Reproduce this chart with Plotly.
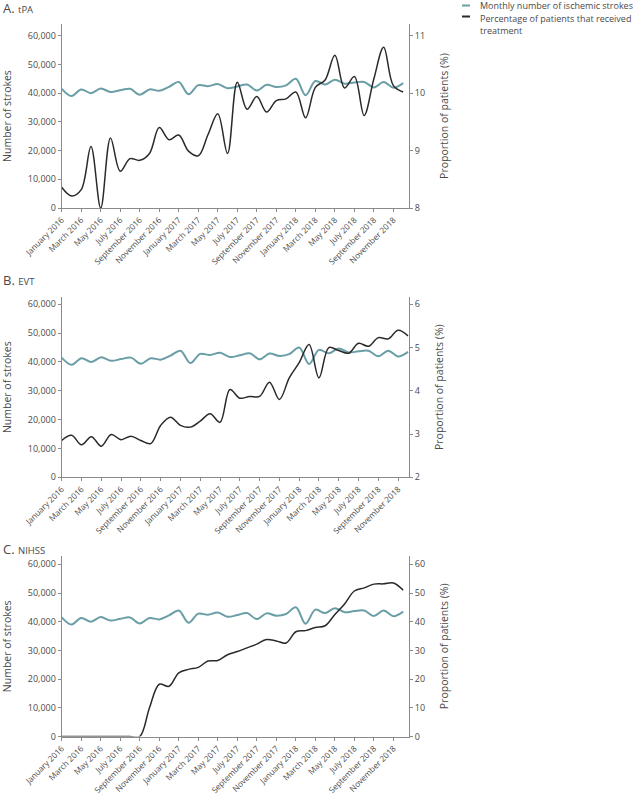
import plotly.graph_objects as go

# ---------------- data ----------------
months = list(range(36))  # January 2016 ... December 2018
tick_positions = list(range(0, 36, 2))
tick_labels = [
    "January 2016", "March 2016", "May 2016", "July 2016", "September 2016", "November 2016",
    "January 2017", "March 2017", "May 2017", "July 2017", "September 2017", "November 2017",
    "January 2018", "March 2018", "May 2018", "July 2018", "September 2018", "November 2018",
]

monthly_strokes = [41500, 39000, 41300, 40000, 41600, 40400, 41000, 41500, 39400, 41300,
                   40800, 42200, 43900, 39600, 42800, 42400, 43200, 41700, 42300, 43000,
                   40900, 42900, 42100, 42700, 45000, 39300, 44200, 43000, 44700, 43300,
                   43700, 43900, 42000, 43900, 41900, 43500]

tpa_pct = [8.36, 8.21, 8.32, 9.07, 8.00, 9.22, 8.64, 8.86, 8.83, 8.95,
           9.40, 9.19, 9.27, 8.99, 8.91, 9.28, 9.64, 8.95, 10.19, 9.72,
           9.94, 9.67, 9.87, 9.90, 10.02, 9.57, 10.10, 10.23, 10.66, 10.09,
           10.29, 9.61, 10.25, 10.80, 10.13, 10.02]

evt_pct = [2.85, 2.97, 2.75, 2.94, 2.72, 2.99, 2.87, 2.95, 2.85, 2.78,
           3.20, 3.39, 3.20, 3.16, 3.30, 3.47, 3.27, 4.03, 3.83, 3.87,
           3.87, 4.20, 3.80, 4.30, 4.65, 5.07, 4.30, 5.00, 4.93, 4.87,
           5.10, 5.03, 5.23, 5.20, 5.40, 5.27]

nihss_pct = [0, 0, 0, 0, 0, 0, 0, 0, 0, 10.0,
             18.2, 17.5, 22.2, 23.4, 24.1, 26.3, 26.5, 28.5, 29.6, 30.9,
             32.2, 33.8, 33.3, 32.6, 36.5, 36.9, 38.0, 38.6, 42.5, 46.2,
             50.7, 51.8, 53.1, 53.2, 53.5, 51.0]

series_names = ["Monthly number of ischemic strokes",
                "Percentage of patients that received treatment"]

panels = [
    dict(letter="A.", name="tPA", pct=tpa_pct, left_max=64074, right=(8, 11.204),
         right_ticks=[8, 9, 10, 11], xmax=35.6, top=24, bottom=208, title_y=7.5),
    dict(letter="B.", name="EVT", pct=evt_pct, left_max=62532, right=(2, 6.169),
         right_ticks=[2, 3, 4, 5, 6], xmax=35.1, top=297, bottom=477.3, title_y=279.5),
    dict(letter="C.", name="NIHSS", pct=nihss_pct, left_max=62892, right=(0, 62.9),
         right_ticks=[0, 10, 20, 30, 40, 50, 60], xmax=35.6, top=556, bottom=736.5, title_y=548.5),
]

# ---------------- styling ----------------
W, H = 636, 796


def px_x(v):
    return v / W


def px_y(v):
    return 1 - v / H


FONT = "Open Sans"
TEAL = "#6a9ea6"
DARK = "#2a2a2a"
AXIS = "#8a8a8a"
TXT = "#4a4a4a"
X0, X1 = px_x(61.7), px_x(409)

fig = go.Figure()
layout = dict(
    width=W, height=H, margin=dict(l=0, r=0, t=0, b=0, autoexpand=False),
    paper_bgcolor="white", plot_bgcolor="white",
    font=dict(family=FONT, size=9, color=TXT),
    showlegend=False,
)
annotations = []
shapes = []

for i, p in enumerate(panels):
    k = i + 1
    xa = "x" if k == 1 else f"x{k}"
    yl_idx = 2 * i + 1
    yr_idx = 2 * i + 2
    yl = "y" if yl_idx == 1 else f"y{yl_idx}"
    yr = f"y{yr_idx}"
    dom = [px_y(p["bottom"]), px_y(p["top"])]

    fig.add_trace(go.Scatter(x=months, y=monthly_strokes, mode="lines", name=series_names[0],
                             line=dict(color=TEAL, width=2, shape="spline", smoothing=1),
                             xaxis=xa, yaxis=yl))
    fig.add_trace(go.Scatter(x=months, y=p["pct"], mode="lines", name=series_names[1],
                             line=dict(color=DARK, width=1.5, shape="spline", smoothing=1),
                             xaxis=xa, yaxis=yr))

    layout["xaxis" if k == 1 else f"xaxis{k}"] = dict(
        domain=[X0, X1], anchor=yl, range=[0, p["xmax"]], automargin=False,
        tickmode="array", tickvals=tick_positions, ticktext=tick_labels,
        tickangle=-45, ticks="outside", ticklen=3, tickcolor=AXIS,
        showline=True, linecolor=AXIS, linewidth=1, showgrid=False, zeroline=False,
        tickfont=dict(size=8.2, color=TXT),
    )
    layout["yaxis" if yl_idx == 1 else f"yaxis{yl_idx}"] = dict(
        domain=dom, anchor=xa, range=[0, p["left_max"]], automargin=False,
        tickmode="array", tickvals=[0, 10000, 20000, 30000, 40000, 50000, 60000],
        tickformat=",", ticks="outside", ticklen=3, tickcolor=AXIS,
        showline=True, linecolor=AXIS, linewidth=1, showgrid=False, zeroline=False,
        tickfont=dict(size=9, color=TXT),
        title=dict(text="Number of strokes", font=dict(size=10.5, color=TXT), standoff=15),
    )
    layout[f"yaxis{yr_idx}"] = dict(
        domain=dom, anchor=xa, overlaying=yl, side="right", range=list(p["right"]),
        automargin=False,
        tickmode="array", tickvals=p["right_ticks"], ticks="outside", ticklen=3, tickcolor=AXIS,
        showline=True, linecolor=AXIS, linewidth=1, showgrid=False, zeroline=False,
        tickfont=dict(size=9, color=TXT),
        title=dict(text="Proportion of patients (%)", font=dict(size=10.5, color=TXT), standoff=16),
    )

    annotations.append(dict(
        xref="paper", yref="paper", x=px_x(1), y=px_y(p["title_y"]), xanchor="left", yanchor="middle",
        showarrow=False, align="left",
        text=f"{p['letter']} <span style='font-size:9.5px'>{p['name']}</span>",
        font=dict(size=13, color=TXT, family=FONT),
    ))

# custom legend
leg_items = [(TEAL, 5.5), (DARK, 16.5)]
for col, yy in leg_items:
    shapes.append(dict(type="line", xref="paper", yref="paper",
                       x0=px_x(462), x1=px_x(470), y0=px_y(yy), y1=px_y(yy),
                       line=dict(color=col, width=2)))
annotations.append(dict(xref="paper", yref="paper", x=px_x(478), y=px_y(5.5),
                        xanchor="left", yanchor="middle", showarrow=False, align="left",
                        text=series_names[0], font=dict(size=9, color=TXT, family=FONT)))
annotations.append(dict(xref="paper", yref="paper", x=px_x(478), y=px_y(10.5),
                        xanchor="left", yanchor="top", showarrow=False, align="left",
                        text="Percentage of patients that received<br>treatment",
                        font=dict(size=9, color=TXT, family=FONT)))

layout["annotations"] = annotations
layout["shapes"] = shapes
fig.update_layout(**layout)
fig.write_html(
    "out.html",
    config={"displayModeBar": False},
    post_script="document.body.style.margin='0px';document.body.style.padding='0px';",
)
